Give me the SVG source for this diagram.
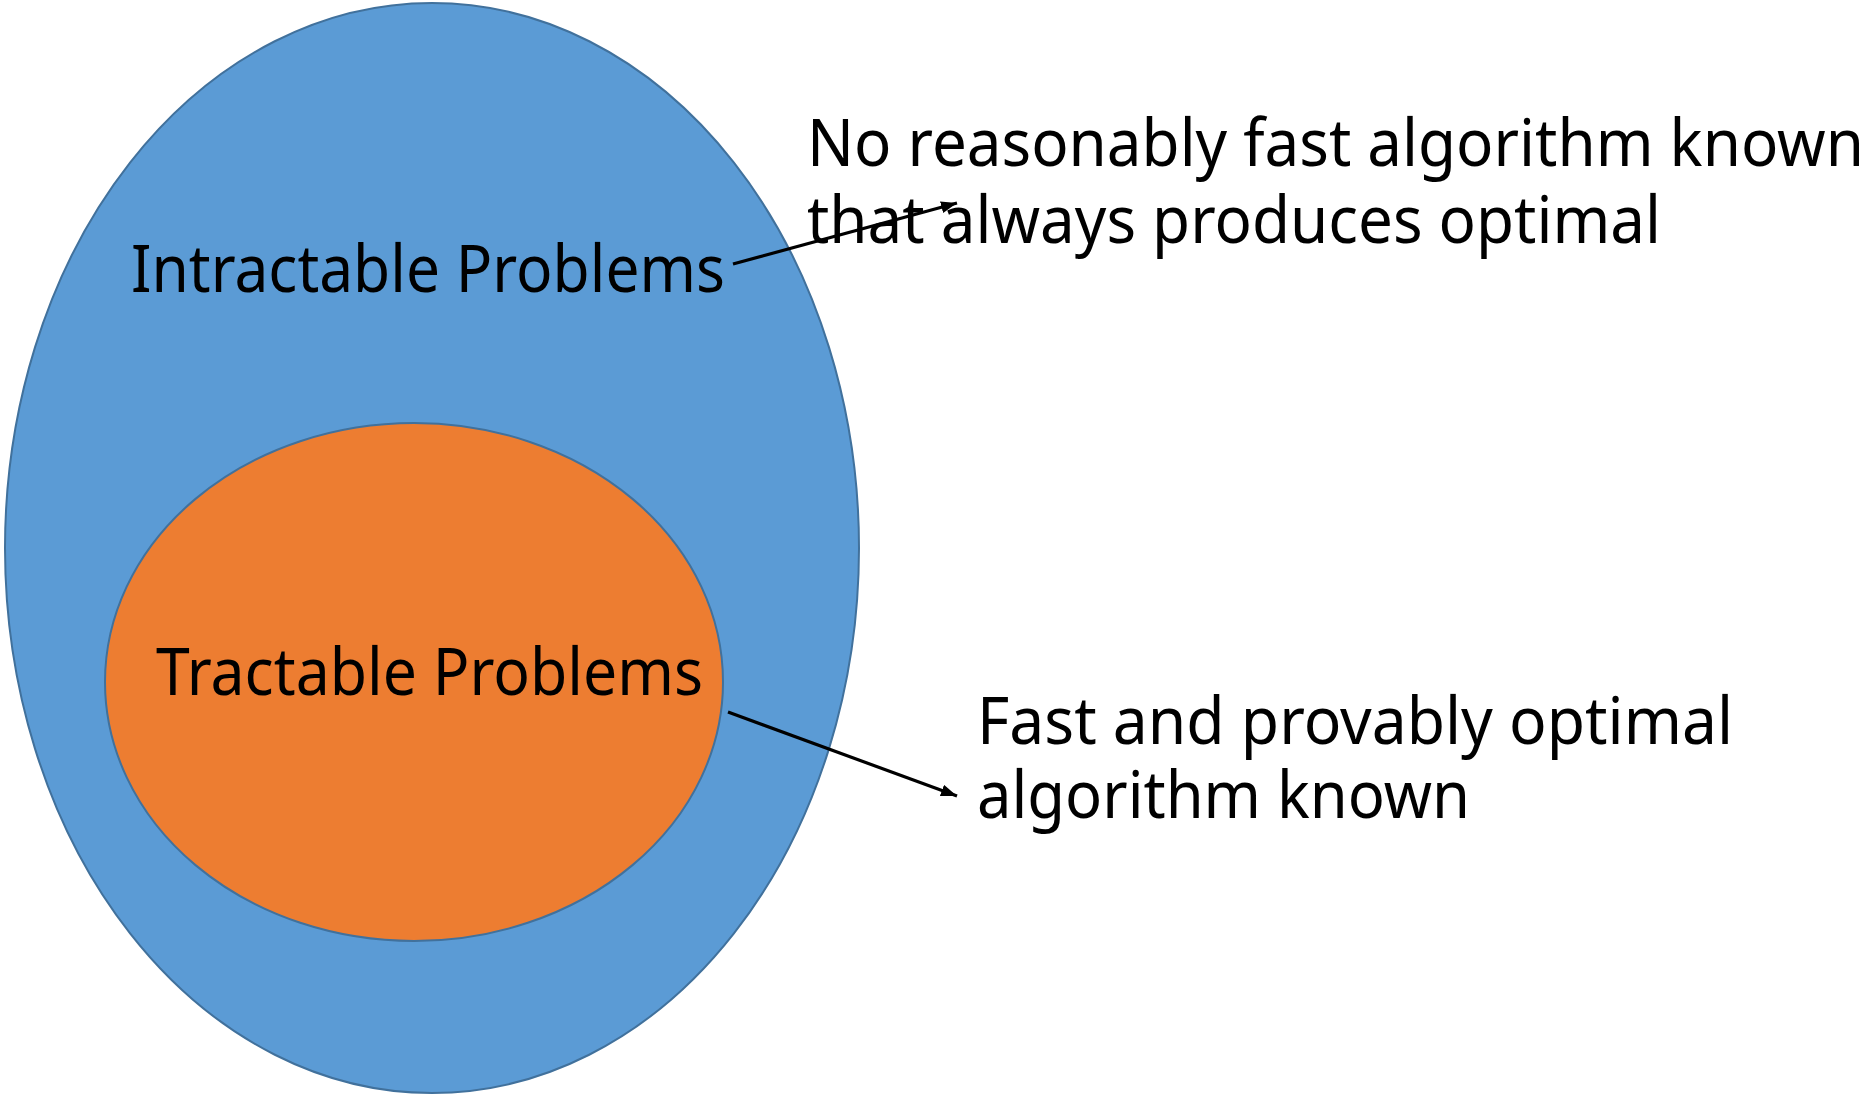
<svg xmlns="http://www.w3.org/2000/svg" width="1864" height="1095" viewBox="0 0 1864 1095">
  <style>
    .lbl { font-family: "Noto Sans", "Open Sans", "Liberation Sans", sans-serif; font-size: 65px; fill: #000; }
    .outer { fill: #5B9BD5; stroke: #41719C; stroke-width: 2; }
    .inner { fill: #ED7D31; stroke: #41719C; stroke-width: 2; }
    .conn { stroke: #000; stroke-width: 3.2; fill: none; marker-end: url(#head); }
  </style>
  <defs>
    <marker id="head" markerUnits="userSpaceOnUse" markerWidth="18" markerHeight="14" refX="16" refY="6" orient="auto">
      <path d="M0,0 L16,6 L0,12 Z" fill="#000"/>
    </marker>
  </defs>
  <rect width="1864" height="1095" fill="#fff"/>

  <g id="intractable">
    <ellipse class="outer" cx="432" cy="548" rx="427" ry="545"/>
    <text class="lbl" x="131" y="292" textLength="594" lengthAdjust="spacingAndGlyphs">Intractable Problems</text>
  </g>

  <g id="tractable">
    <ellipse class="inner" cx="414" cy="682" rx="309" ry="259"/>
    <text class="lbl" x="156" y="695" textLength="547" lengthAdjust="spacingAndGlyphs">Tractable Problems</text>
  </g>

  <g id="note-intractable">
    <text class="lbl" x="807" y="166" textLength="1057" lengthAdjust="spacingAndGlyphs">No reasonably fast algorithm known</text>
    <text class="lbl" x="807" y="243" textLength="854" lengthAdjust="spacingAndGlyphs">that always produces optimal</text>
  </g>

  <g id="note-tractable">
    <text class="lbl" x="977" y="744" textLength="756" lengthAdjust="spacingAndGlyphs">Fast and provably optimal</text>
    <text class="lbl" x="977" y="818" textLength="493" lengthAdjust="spacingAndGlyphs">algorithm known</text>
  </g>

  <g id="connectors">
    <line class="conn" x1="733" y1="264" x2="957" y2="203"/>
    <line class="conn" x1="728" y1="712" x2="957" y2="796"/>
  </g>
</svg>
